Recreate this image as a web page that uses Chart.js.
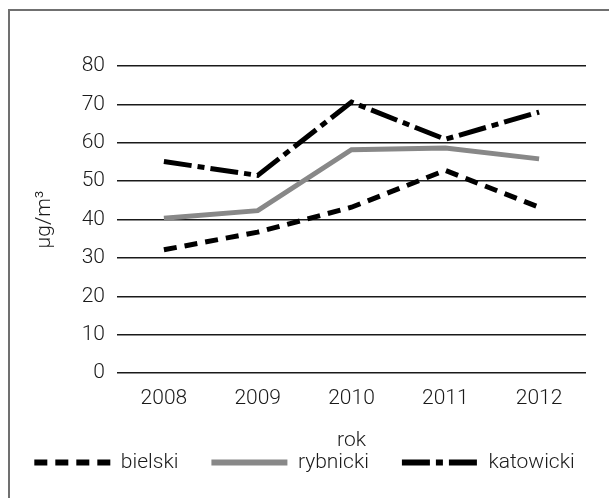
<!DOCTYPE html>
<html>
<head>
<meta charset="utf-8">
<script src="https://cdn.jsdelivr.net/npm/chart.js@4/dist/chart.umd.min.js"></script>
<style>
  html, body { margin: 0; padding: 0; background: #fff; }
  #wrap { width: 609px; height: 498px; }
</style>
</head>
<body>
<div id="wrap"><canvas id="c" width="609" height="498"></canvas></div>
<script>
// Annual mean concentration by district
const years = ['2008', '2009', '2010', '2011', '2012'];
const bielski = [32.1, 36.7, 43.2, 52.8, 43.2];
const rybnicki = [40.3, 42.3, 58.2, 58.6, 55.8];
const katowicki = [55.1, 51.5, 70.6, 60.9, 68.0];
const yTicks = [0, 10, 20, 30, 40, 50, 60, 70, 80];

const FONT = { family: 'Roboto, "Liberation Sans", sans-serif', size: 21, weight: '300' };
Chart.defaults.font = FONT;
Chart.defaults.color = '#1a1a1a';

// Thin grey frame along the left and top edges
const framePlugin = {
  id: 'frame',
  beforeDraw(chart) {
    const ctx = chart.ctx;
    ctx.save();
    ctx.fillStyle = '#fff';
    ctx.fillRect(0, 0, chart.width, chart.height);
    ctx.strokeStyle = '#707070';
    ctx.lineWidth = 2;
    ctx.beginPath();
    ctx.moveTo(9, chart.height);
    ctx.lineTo(9, 10);
    ctx.lineTo(chart.width, 10);
    ctx.stroke();
    ctx.restore();
  }
};

new Chart(document.getElementById('c'), {
  type: 'line',
  data: {
    labels: years,
    datasets: [
      {
        label: 'bielski',
        data: bielski,
        borderColor: '#000',
        backgroundColor: '#000',
        borderWidth: 5,
        borderDash: [13, 8],
        pointRadius: 0,
        tension: 0,
        fill: false
      },
      {
        label: 'rybnicki',
        data: rybnicki,
        borderColor: '#888888',
        backgroundColor: '#888888',
        borderWidth: 5,
        pointRadius: 0,
        tension: 0,
        fill: false
      },
      {
        label: 'katowicki',
        data: katowicki,
        borderColor: '#000',
        backgroundColor: '#000',
        borderWidth: 5,
        borderDash: [28, 6, 7, 6],
        pointRadius: 0,
        tension: 0,
        fill: false
      }
    ]
  },
  options: {
    responsive: false,
    animation: false,
    devicePixelRatio: 1,
    layout: { padding: { top: 66, left: 0, right: 0, bottom: 15 } },
    plugins: {
      tooltip: { enabled: false },
      legend: {
        position: 'bottom',
        labels: {
          usePointStyle: true,
          pointStyle: 'line',
          pointStyleWidth: 76,
          boxHeight: 19,
          padding: 33,
          color: '#1a1a1a',
          font: FONT,
          generateLabels(chart) {
            const items = Chart.defaults.plugins.legend.labels.generateLabels(chart);
            items.forEach(item => {
              const ds = chart.data.datasets[item.datasetIndex];
              item.lineDash = ds.borderDash || [];
              item.lineWidth = 6;
              item.strokeStyle = ds.borderColor;
              item.pointStyle = 'line';
            });
            return items;
          }
        }
      }
    },
    scales: {
      x: {
        type: 'category',
        offset: true,
        grid: { display: false, drawTicks: false },
        border: { display: false },
        ticks: { padding: 13, color: '#1a1a1a', font: FONT },
        title: { display: true, text: 'rok', color: '#1a1a1a', font: FONT, padding: { top: 0, bottom: -34 } },
        afterFit(scale) { scale.height = 46; }
      },
      y: {
        min: 0,
        max: 80,
        afterBuildTicks(scale) { scale.ticks = yTicks.map(v => ({ value: v })); },
        grid: { color: '#1a1a1a', lineWidth: 1.5, drawTicks: false },
        border: { display: false },
        ticks: { padding: 12, color: '#1a1a1a', font: FONT },
        title: { display: true, text: 'µg/m³', color: '#1a1a1a', font: FONT, padding: { top: 32 } },
        afterFit(scale) { scale.width = 117; }
      },
      // empty right-hand gutter so the grid stops short of the edge
      gutter: {
        type: 'linear',
        position: 'right',
        display: true,
        grid: { display: false, drawTicks: false },
        border: { display: false },
        ticks: { display: false },
        afterFit(scale) { scale.width = 23; }
      }
    }
  },
  plugins: [framePlugin]
});
</script>
</body>
</html>
